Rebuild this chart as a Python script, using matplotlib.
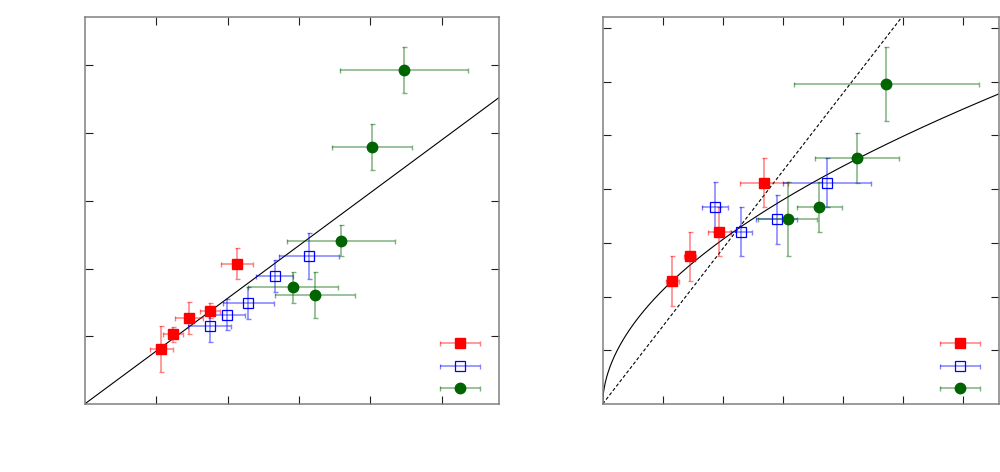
import numpy as np
import matplotlib
matplotlib.use("Agg")
import matplotlib.pyplot as plt
from matplotlib.legend_handler import HandlerErrorbar
from matplotlib.container import ErrorbarContainer

# ---------------- data: left panel ----------------
L_red_x = [1.07, 1.24, 1.46, 1.75, 2.13]
L_red_y = [0.81, 1.03, 1.27, 1.38, 2.07]
L_red_xe = [0.16, 0.14, 0.20, 0.14, 0.22]
L_red_ye = [0.34, 0.11, 0.23, 0.11, 0.23]

L_blue_x = [1.75, 1.99, 2.29, 2.66, 3.14]
L_blue_y = [1.15, 1.32, 1.49, 1.89, 2.18]
L_blue_xe = [0.30, 0.25, 0.36, 0.26, 0.42]
L_blue_ye = [0.23, 0.23, 0.23, 0.23, 0.34]

L_green_x = [2.92, 3.23, 3.59, 4.02, 4.47]
L_green_y = [1.72, 1.61, 2.41, 3.79, 4.93]
L_green_xe = [0.63, 0.56, 0.76, 0.56, 0.90]
L_green_ye = [0.23, 0.34, 0.23, 0.34, 0.34]

L_slope = 0.78
L_xlim = (0, 5.8)
L_ylim = (0, 5.71)
L_xticks = [1, 2, 3, 4, 5]
L_yticks = [1, 2, 3, 4, 5]

# ---------------- data: right panel ----------------
R_red_x = [1.16, 1.46, 1.94, 2.68]
R_red_y = [2.29, 2.75, 3.21, 4.12]
R_red_xe = [0.11, 0.10, 0.18, 0.40]
R_red_ye = [0.46, 0.46, 0.46, 0.46]

R_blue_x = [1.87, 2.31, 2.90, 3.74]
R_blue_y = [3.67, 3.21, 3.44, 4.12]
R_blue_xe = [0.22, 0.18, 0.34, 0.73]
R_blue_ye = [0.46, 0.46, 0.46, 0.46]

R_green_x = [3.08, 3.61, 4.24, 4.72]
R_green_y = [3.44, 3.67, 4.58, 5.95]
R_green_xe = [0.49, 0.375, 0.70, 1.54]
R_green_ye = [0.69, 0.46, 0.46, 0.69]

R_slope = 1.446
R_amp = 2.12
R_pow = 0.531
R_xlim = (0, 6.6)
R_ylim = (0, 7.2)
R_xticks = [1, 2, 3, 4, 5, 6]
R_yticks = [1, 2, 3, 4, 5, 6, 7]

# ---------------- styles ----------------
RED = "#ff0000"
BLUE = "#0000ff"
GREEN = "#006400"
ERR_ALPHA = 0.5

styles = [
    dict(color=RED, marker="s", ms=7.5, mfc=RED, mec=RED),
    dict(color=BLUE, marker="s", ms=7.5, mfc="none", mec=BLUE, mew=0.9),
    dict(color=GREEN, marker="o", ms=7.5, mfc=GREEN, mec=GREEN),
]

fig = plt.figure(figsize=(10, 4.72), dpi=100)
axL = fig.add_axes([0.0847, 0.1441, 0.4143, 0.8193])
axR = fig.add_axes([0.6027, 0.1441, 0.3963, 0.8193])


def draw_series(ax, x, y, xe, ye, st):
    eb = ax.errorbar(x, y, xerr=xe, yerr=ye, fmt="none", ecolor=st["color"],
                     elinewidth=1.1, capsize=1.8, capthick=1.0, alpha=ERR_ALPHA, zorder=2)
    ax.plot(x, y, linestyle="none", marker=st["marker"], ms=st["ms"],
            mfc=st["mfc"], mec=st["mec"], mew=st.get("mew", 1.0), zorder=3)
    return eb


def legend_proxies(ax):
    handles = []
    for st in styles:
        h = ax.errorbar([np.nan], [np.nan], xerr=[np.nan], fmt=st["marker"],
                        ms=st["ms"], mfc=st["mfc"], mec=st["mec"], mew=st.get("mew", 1.0),
                        color=st["color"], ecolor=st["color"], elinewidth=1.1,
                        capsize=1.8, capthick=1.0)
        for art in h.lines[1] + h.lines[2]:
            art.set_alpha(ERR_ALPHA)
        handles.append(h)
    return handles


def style_axes(ax, xlim, ylim, xticks, yticks):
    ax.set_xlim(*xlim)
    ax.set_ylim(*ylim)
    ax.set_xticks(xticks)
    ax.set_yticks(yticks)
    ax.tick_params(direction="in", length=5.5, width=0.8, color="#202020",
                   top=True, right=True, labelbottom=False, labelleft=False)
    for sp in ax.spines.values():
        sp.set_color("#808080")
        sp.set_linewidth(1.1)


# left panel
draw_series(axL, L_red_x, L_red_y, L_red_xe, L_red_ye, styles[0])
draw_series(axL, L_blue_x, L_blue_y, L_blue_xe, L_blue_ye, styles[1])
draw_series(axL, L_green_x, L_green_y, L_green_xe, L_green_ye, styles[2])
xl = np.linspace(L_xlim[0], L_xlim[1], 50)
axL.plot(xl, L_slope * xl, color="black", lw=0.8, zorder=1)
style_axes(axL, L_xlim, L_ylim, L_xticks, L_yticks)

# right panel
draw_series(axR, R_red_x, R_red_y, R_red_xe, R_red_ye, styles[0])
draw_series(axR, R_blue_x, R_blue_y, R_blue_xe, R_blue_ye, styles[1])
draw_series(axR, R_green_x, R_green_y, R_green_xe, R_green_ye, styles[2])
xr = np.linspace(R_xlim[0], R_xlim[1], 600)
axR.plot(xr, R_amp * xr ** R_pow, color="black", lw=0.8, zorder=1)
axR.plot(xr, R_slope * xr, color="black", lw=0.8, linestyle=(0, (3, 2)), zorder=1)
style_axes(axR, R_xlim, R_ylim, R_xticks, R_yticks)

# legends (no text)
for ax, cx in ((axL, (460 - 84.7) / 414.3), (axR, (960 - 602.7) / 396.3)):
    hs = legend_proxies(ax)
    ax.legend(hs, ["", "", ""], loc="center", bbox_to_anchor=(cx, (404 - 366.7) / 386.7),
              frameon=False, handlelength=2.95, handletextpad=0, borderpad=0,
              labelspacing=0.61, numpoints=1, fontsize=10, borderaxespad=0,
              handler_map={ErrorbarContainer: HandlerErrorbar(xerr_size=1.46)})

fig.savefig("out.png", dpi=100)
